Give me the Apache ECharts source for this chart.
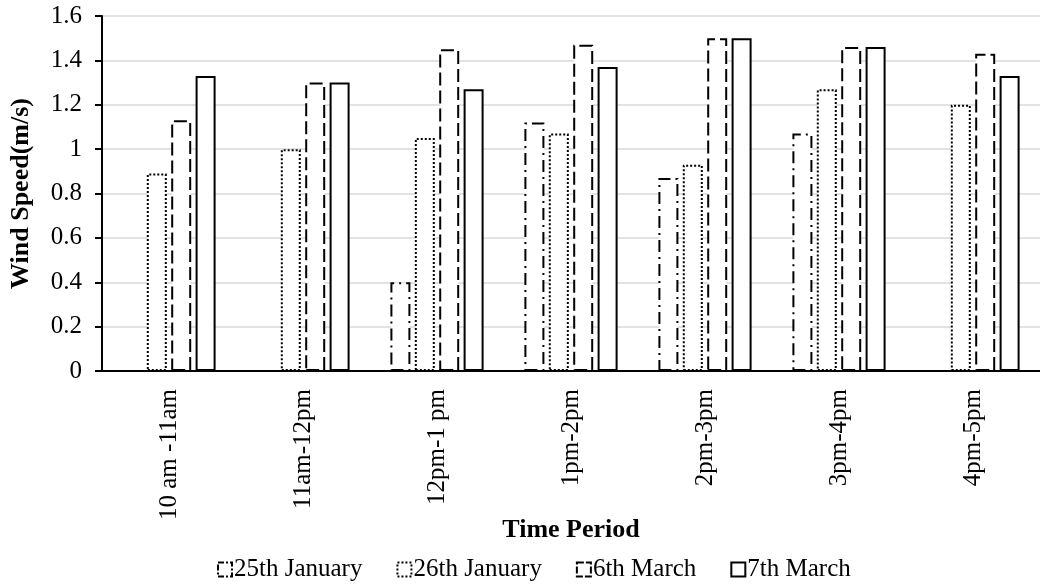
<!DOCTYPE html>
<html>
<head>
<meta charset="utf-8">
<script src="https://cdn.jsdelivr.net/npm/echarts@6/dist/echarts.min.js"></script>
<style>
  html, body { margin: 0; padding: 0; background: #fff; }
  #chart { width: 1040px; height: 587px; }
</style>
</head>
<body>
<div id="chart"></div>
<script>
// data
var periods = ['10 am -11am', '11am-12pm', '12pm-1 pm', '1pm-2pm', '2pm-3pm', '3pm-4pm', '4pm-5pm'];
var jan25 = ['-', '-', 0.40, 1.12, 0.87, 1.07, '-'];
var jan26 = [0.89, 1.00, 1.05, 1.07, 0.93, 1.27, 1.20];
var mar06 = [1.13, 1.30, 1.45, 1.47, 1.50, 1.46, 1.43];
var mar07 = [1.33, 1.30, 1.27, 1.37, 1.50, 1.46, 1.33];
var seriesNames = ['25th January', '26th January', '6th March', '7th March'];
var yTicks = { min: 0, max: 1.6, step: 0.2 };

var font = 'Liberation Serif, Times New Roman, serif';
var dashes = [[12, 5, 2, 5], [2, 2], [13, 5], 'solid'];
var legendDashes = [[6, 2, 2, 2], [2, 2], [7, 2], 'solid'];
var values = [jan25, jan26, mar06, mar07];

var myChart = echarts.init(document.getElementById('chart'));

var series = seriesNames.map(function (name, i) {
    return {
        name: name,
        type: 'bar',
        data: values[i],
        barWidth: 20,
        barGap: '22%',
        itemStyle: {
            color: '#ffffff',
            borderColor: '#000000',
            borderWidth: 2,
            borderType: dashes[i]
        }
    };
});

var legendData = seriesNames.map(function (name, i) {
    return {
        name: name,
        itemStyle: { color: '#fff', borderColor: '#000', borderWidth: 2, borderType: legendDashes[i] }
    };
});

var option = {
    animation: false,
    backgroundColor: '#ffffff',
    textStyle: { fontFamily: font, color: '#000' },
    grid: { left: 99, right: 0, top: 16, bottom: 216 },
    legend: {
        bottom: 0,
        left: 212,
        itemWidth: 14,
        itemHeight: 14,
        itemGap: 34,
        icon: 'rect',
        textStyle: { fontFamily: font, fontSize: 25, color: '#000', padding: [0, 0, 0, -3] },
        data: legendData
    },
    xAxis: {
        type: 'category',
        data: periods,
        name: 'Time Period',
        nameLocation: 'middle',
        nameGap: 146,
        nameMoveOverlap: false,
        nameTextStyle: { fontFamily: font, fontSize: 26, fontWeight: 'bold', color: '#000' },
        axisLine: { lineStyle: { color: '#000', width: 2 } },
        axisTick: { alignWithLabel: true, length: 6, lineStyle: { color: '#000', width: 2 } },
        axisLabel: { rotate: 90, margin: 18, fontFamily: font, fontSize: 25, color: '#000' }
    },
    yAxis: {
        type: 'value',
        min: yTicks.min,
        max: yTicks.max,
        interval: yTicks.step,
        name: 'Wind Speed(m/s)',
        nameLocation: 'middle',
        nameGap: 68,
        nameTextStyle: { fontFamily: font, fontSize: 26, fontWeight: 'bold', color: '#000' },
        axisLine: { show: true, lineStyle: { color: '#000', width: 2 } },
        axisTick: { show: true, length: 7, lineStyle: { color: '#000', width: 2 } },
        axisLabel: { margin: 20, fontFamily: font, fontSize: 25, color: '#000' },
        splitLine: { lineStyle: { color: '#d9d9d9', width: 1.5 } }
    },
    series: series
};

myChart.setOption(option);
</script>
</body>
</html>
